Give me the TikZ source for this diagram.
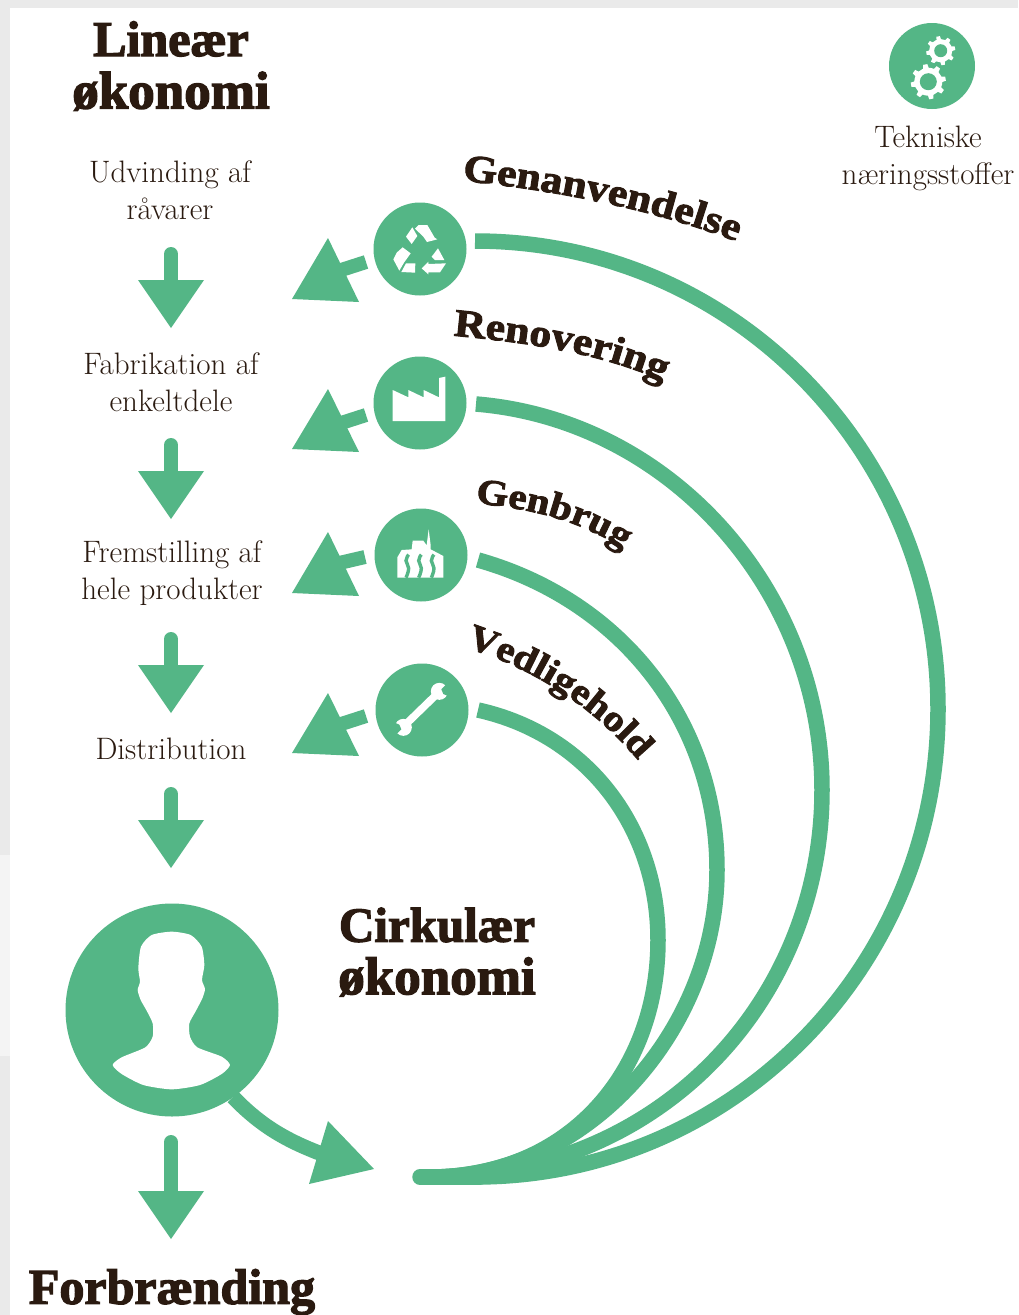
\documentclass[tikz,border=0pt]{standalone}
\usepackage{fontspec}
\usetikzlibrary{decorations.text}
\newfontfamily\fatfont{Liberation Serif}[BoldFeatures={FakeBold=2.6}]
\newfontfamily\fatwide{Liberation Serif}[BoldFeatures={FakeBold=2.4,FakeStretch=1.12}]
\newcommand{\headfont}{\fatfont\bfseries\fontsize{50}{53}\selectfont}
\newcommand{\curvefont}{\fatwide\bfseries\fontsize{39}{42}\selectfont}
\newcommand{\curvefontsmall}{\fatwide\bfseries\fontsize{36.5}{40}\selectfont}
\definecolor{flowgreen}{RGB}{84,182,134}
\definecolor{inkbrown}{RGB}{42,26,16}
\definecolor{stripA}{RGB}{234,234,234}
\definecolor{stripB}{RGB}{244,244,244}
\tikzset{
  headtext/.style={font=\headfont,text=inkbrown,align=center,inner sep=0pt},
  bodytext/.style={font=\fontsize{31}{37}\selectfont,text=inkbrown,align=center,inner sep=0pt},
  iconcircle/.style={circle,fill=flowgreen,inner sep=0pt,minimum size=93pt},
  flowline/.style={draw=flowgreen,line width=14pt},
  bigline/.style={draw=flowgreen,line width=15.5pt},
  arcline/.style={bigline,line cap=round},
  headfill/.style={fill=flowgreen},
  curvelabel/.style={decorate,decoration={text along path,text align=center,text={|\curvefont\color{inkbrown}|#1}}},
  curvelabelsmall/.style={decorate,decoration={text along path,text align=center,text={|\curvefontsmall\color{inkbrown}|#1}}}
}
\newcommand{\dnarrow}[3]{%
  \coordinate (#1s) at (171,#2);
  \coordinate (#1e) at (171,#3-40);
  \coordinate (#1t) at (171,#3);
  \draw[flowline,line cap=round] (#1s) -- (#1e);
  \fill[headfill] (#1t) -- (204,#3-48) -- (138,#3-48) -- cycle;}
\newcommand{\gear}[4]{% x y outer hole
  \fill[white] (#1,#2) circle (#3*0.8pt);
  \foreach \a in {0,45,...,315}{
    \fill[white,shift={(#1,#2)},rotate=\a+10] (-#3*0.17,#3*0.7) -- (#3*0.17,#3*0.7) -- (#3*0.12,#3) -- (-#3*0.12,#3) -- cycle;}
  \fill[flowgreen] (#1,#2) circle (#4 pt);}
\begin{document}
\begin{tikzpicture}[x=1pt,y=-1pt]
\useasboundingbox (0,0) rectangle (1018,1315);
\fill[white] (0,0) rectangle (1018,1315);
\fill[stripA] (0,0) rectangle (1018,8);
\fill[stripA] (0,0) rectangle (10,855);
\fill[stripB] (0,855) rectangle (10,1056);
\fill[stripA] (0,1056) rectangle (10,1315);

% headings
\node[headtext] (lin) at (171,66) {Lineær\\[-0.5pt]{\fontsize{53}{53}\selectfont økonomi}};
\node[headtext] (cir) at (437,952) {{\fontsize{49}{53}\selectfont Cirkulær}\\[-0.5pt]{\fontsize{53}{53}\selectfont økonomi}};
\node[headtext] (for) at (172,1292) {Forbrænding};

% linear steps
\node[bodytext] (s1) at (170,190) {Udvinding af\\råvarer};
\node[bodytext] (s2) at (171,382) {Fabrikation af\\enkeltdele};
\node[bodytext] (s3) at (172,573) {Fremstilling af\\hele produkter};
\node[bodytext] (s4) at (171,749) {Distribution};
\node[bodytext] (tek) at (928,158) {Tekniske\\næringsstoffer};

% down arrows
\dnarrow{d1}{254}{328}
\dnarrow{d2}{445}{519}
\dnarrow{d3}{639}{713}
\dnarrow{d4}{794}{868}
\dnarrow{d5}{1142}{1239}

% big curves
\coordinate (end) at (420,1177);
\coordinate (g1) at (475,241);
\coordinate (g2) at (476,404);
\coordinate (g3) at (478,560);
\coordinate (g4) at (478,710);
\draw[bigline] (g1) .. controls (731,241) and (938,450) .. (938,709) .. controls (938,968) and (731,1177) .. (475,1177);
\draw[bigline] (g2) .. controls (670,420) and (822,590) .. (822,790) .. controls (822,1000) and (660,1177) .. (430,1177);
\draw[bigline] (g3) .. controls (620,600) and (717,720) .. (717,870) .. controls (717,1030) and (587,1177) .. (430,1177);
\draw[bigline] (g4) .. controls (590,735) and (658,830) .. (658,940) .. controls (658,1073) and (568,1177) .. (430,1177);
\draw[arcline] (end) -- (480,1177);

% curved labels
\path[curvelabel=Genanvendelse] (455,180) .. controls (557,190) and (657,210) .. (743,244);
\path[curvelabel=Renovering] (447,335) .. controls (522,342) and (602,352) .. (669,384);
\path[curvelabelsmall=Genbrug] (471,503) .. controls (522,507) and (582,519) .. (627,552);
\path[curvelabelsmall=Vedligehold] (466,647) .. controls (530,668) and (590,703) .. (638,760);

% icon circles
\node[iconcircle] (c1) at (420,249) {};
\node[iconcircle] (c2) at (420,403) {};
\node[iconcircle] (c3) at (421,555) {};
\node[iconcircle] (c4) at (422,710) {};
\node[iconcircle,minimum size=213pt] (person) at (172,1010) {};
\node[iconcircle,minimum size=86pt] (gears) at (932,66) {};

% loop arrows
\coordinate (l1a) at (366,262); \coordinate (l1b) at (335,272);
\coordinate (l2a) at (366,415); \coordinate (l2b) at (335,425);
\coordinate (l3a) at (365,557); \coordinate (l3b) at (335,564);
\coordinate (l4a) at (366,716); \coordinate (l4b) at (335,726);
\draw[flowline] (l1a) -- (l1b);
\draw[flowline] (l2a) -- (l2b);
\draw[flowline] (l3a) -- (l3b);
\draw[flowline] (l4a) -- (l4b);
\fill[headfill] (292,299) -- (328,238) -- (359,302) -- cycle;
\fill[headfill] (292,449) -- (328,389) -- (359,452) -- cycle;
\fill[headfill] (292,593) -- (328,532) -- (359,596) -- cycle;
\fill[headfill] (292,753) -- (328,693) -- (359,756) -- cycle;

% person arrow
\coordinate (p1) at (233,1097);
\coordinate (p2) at (322,1154);
\draw[flowline,line width=15pt] (p1) .. controls (260,1125) and (285,1140) .. (p2);
\fill[headfill] (374,1169) -- (328,1121) -- (309,1184) -- cycle;

% person silhouette
\begin{scope}[shift={(40,890)},x=1pt/3,y=-1pt/3]
\fill[white] plot[smooth cycle,tension=0.4] coordinates {
 (395,125) (335,135) (303,170) (295,235) (300,275) (293,300) (302,330) (320,362) (338,400) (338,440) (316,472) (245,502) (218,525) (245,552) (310,585) (395,598) (480,585) (545,552) (570,525) (545,500) (472,472) (450,440) (448,400) (468,362) (487,325) (495,297) (486,270) (493,225) (485,170) (452,135)};
\end{scope}

% gears
\gear{940.7}{50.7}{14.5}{6.5}
\fill[flowgreen] (928.3,81.7) circle (19.5pt);
\gear{928.3}{81.7}{17.5}{8.5}

% recycle icon
\begin{scope}[shift={(280,140)},x=1pt/3,y=-1pt/3]
\fill[white] (405,266) -- (416,255) -- (442,255) -- (464,293) -- (472,298) -- (441,306) -- (430,290) -- cycle;
\fill[white] (378,290) -- (397,262) -- (412,288) -- (395,312) -- cycle;
\fill[white] (340,358) -- (350,338) -- (368,322) -- (392,340) -- (372,368) -- (358,392) -- cycle;
\fill[white] (364,396) -- (378,370) -- (406,370) -- (405,398) -- cycle;
\fill[white] (425,385) -- (445,365) -- (445,372) -- (498,370) -- (480,397) -- (445,397) -- (445,403) -- cycle;
\fill[white] (455,350) -- (474,325) -- (493,360) -- (465,360) -- cycle;

% factory icon
\fill[white] (338,750) -- (385,772) -- (385,750) -- (431,772) -- (431,750) -- (477,772) -- (477,714) -- (496,710) -- (496,843) -- (338,843) -- cycle;
\end{scope}

% incinerator icon
\begin{scope}[shift={(280,470)},x=1pt/3,y=-1pt/3]
\fill[white] (352,323) -- (352,262) -- (365,240) -- (395,238) -- (398,212) -- (430,212) -- (440,226) -- (446,178) -- (452,226) -- (452,238) -- (490,258) -- (490,323) -- cycle;
\foreach \q in {382,420,458}{
  \draw[flowgreen,line width=3.4pt] plot[smooth,tension=0.8] coordinates {(\q+4,254) (\q-4,272) (\q+4,295) (\q-4,323)};}
\end{scope}

% wrench icon
\begin{scope}[shift={(280,470)},x=1pt/3,y=-1pt/3]
\draw[white,line width=7.5pt] (370,770) -- (475,668);
\fill[white] (478,664) circle (8.5pt);
\fill[white] (370,772) circle (8.5pt);
\fill[flowgreen] (484,658) -- (510,632) -- (530,652) -- (504,678) -- (490,672) -- cycle;
\fill[flowgreen] (364,778) -- (338,804) -- (318,784) -- (344,758) -- (358,764) -- cycle;
\end{scope}
\end{tikzpicture}
\end{document}
